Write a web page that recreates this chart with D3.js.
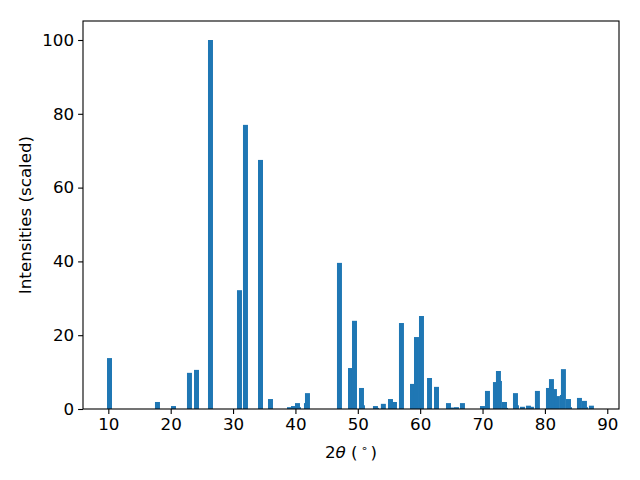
<!DOCTYPE html>
<html>
<head>
<meta charset="utf-8">
<script src="https://d3js.org/d3.v7.min.js"></script>
<style>
  body { margin: 0; background: #fff; }
</style>
</head>
<body>
<script>

var twoTheta = [10.19, 17.88, 20.45, 23.01, 24.14, 26.38, 31.03, 31.99, 34.40, 36.0,
    39.05, 39.69, 40.33, 40.49, 41.77, 41.93, 47.06, 48.83, 49.47, 50.59,
    50.75, 52.83, 52.99, 54.1, 55.24, 55.88, 57.0, 58.77, 59.41, 60.21,
    61.5, 62.62, 64.54, 65.02, 65.82, 66.78, 69.99, 70.79, 72.07, 72.55,
    72.71, 73.52, 73.68, 75.28, 75.44, 76.4, 77.36, 77.84, 78.8, 80.57,
    81.05, 81.53, 82.01, 82.81, 82.97, 83.78, 83.94, 85.54, 86.34, 86.5, 87.46];

var intensities = [13.8, 1.9, 0.8, 9.8, 10.6, 100, 32.2, 77.0, 67.5, 2.7,
    0.5, 0.8, 1.6, 0.5, 1.6, 4.3, 39.6, 11.1, 23.9, 5.7,
    1.0, 0.8, 0.3, 1.4, 2.7, 1.9, 23.3, 6.8, 19.5, 25.2,
    8.4, 6.0, 1.6, 0.4, 0.5, 1.6, 0.8, 4.9, 7.3, 10.3,
    7.6, 1.9, 0.3, 4.3, 1.0, 0.6, 0.9, 0.6, 4.9, 5.7,
    8.1, 5.4, 3.5, 3.8, 10.8, 2.7, 0.5, 3.0, 2.2, 0.5, 0.9];

var xTicks = [10, 20, 30, 40, 50, 60, 70, 80, 90];
var yTicks = [0, 20, 40, 60, 80, 100];

function draw_pattern(elemn) {

    const bar_col = "#1f77b4",
          bar_w = 0.8,
          font = "'DejaVu Sans', sans-serif",
          font_size = "16.7px";

    const margin = {
            top: 21,
            right: 21,
            bottom: 71,
            left: 83
        };

    var width = 640 - margin.left - margin.right,
        height = 480 - margin.top - margin.bottom;

    var svg = d3.select(elemn)
        .append("svg")
        .attr("width", 640)
        .attr("height", 480)
            .append("g")
                .attr("transform", "translate(" + margin.left + "," + margin.top + ")");

    var x = d3.scaleLinear().domain([5.94, 91.88]).range([0, width]);
    var y = d3.scaleLinear().domain([0, 105.15]).range([height, 0]);

    var bars = twoTheta.map(function (t, i) { return {t: t, v: intensities[i]}; });

    svg.append("g").selectAll("rect")
        .data(bars)
        .enter().append("rect")
            .attr("x", function (d) { return x(d.t - bar_w / 2); })
            .attr("width", function (d) { return x(d.t + bar_w / 2) - x(d.t - bar_w / 2); })
            .attr("y", function (d) { return y(d.v); })
            .attr("height", function (d) { return y(0) - y(d.v); })
            .attr("fill", bar_col);

    var xAxis = svg.append("g")
        .attr("transform", "translate(0," + height + ")")
        .call(d3.axisBottom(x).tickValues(xTicks).tickSize(4.9).tickPadding(4).tickFormat(d3.format("d")));

    var yAxis = svg.append("g")
        .call(d3.axisLeft(y).tickValues(yTicks).tickSize(4.9).tickPadding(4).tickFormat(d3.format("d")));

    [xAxis, yAxis].forEach(function (ax) {
        ax.select(".domain").remove();
        ax.selectAll("line").attr("stroke", "#000").attr("stroke-width", 1.1);
        ax.selectAll("text")
            .attr("font-family", font)
            .attr("font-size", font_size)
            .attr("fill", "#000");
    });

    // frame round the axes
    svg.append("rect")
        .attr("width", width)
        .attr("height", height)
        .attr("fill", "none")
        .attr("stroke", "#000")
        .attr("stroke-width", 1.1);

    var xl = svg.append("text")
        .attr("x", width / 2)
        .attr("y", height + 49)
        .attr("font-family", font)
        .attr("font-size", font_size)
        .attr("text-anchor", "middle");
    xl.append("tspan").text("2");
    xl.append("tspan").attr("font-style", "italic").text("θ");
    xl.append("tspan").text(" (");
    xl.append("tspan").attr("font-size", "11px").attr("dx", 3).attr("dy", -6).text("∘");
    xl.append("tspan").attr("dx", 3).attr("dy", 6).text(")");

    svg.append("text")
        .attr("transform", "translate(" + (-52) + "," + (height / 2) + ") rotate(-90)")
        .attr("font-family", font)
        .attr("font-size", font_size)
        .attr("text-anchor", "middle")
        .text("Intensities (scaled)");
}

draw_pattern("body");
</script>
</body>
</html>
